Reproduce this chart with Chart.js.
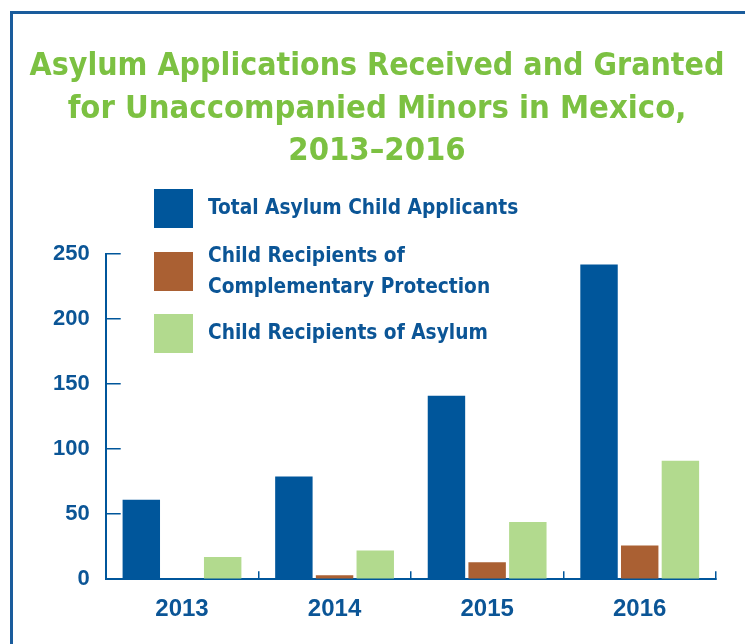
<!DOCTYPE html>
<html>
<head>
<meta charset="utf-8">
<script src="https://cdn.jsdelivr.net/npm/chart.js@4"></script>
<style>
    html, body { margin: 0; padding: 0; background: #ffffff; overflow: hidden; }
    #frame {
        position: absolute; left: 10px; top: 11px; width: 740px; height: 700px;
        border: 3px solid #1a5c9c; box-sizing: border-box;
    }
    #wrap { position: absolute; left: 0; top: 0; width: 745px; height: 644px; }
</style>
</head>
<body>
<div id="frame"></div>
<div id="wrap"><canvas id="asylum-chart" width="745" height="644"></canvas></div>
<script>
const years = ['2013', '2014', '2015', '2016'];
const totalApplicants = [61, 79, 141, 242];
const complementaryProtection = [0, 3, 13, 26];
const asylumRecipients = [17, 22, 44, 91];
const yTicks = [0, 50, 100, 150, 200, 250];

const seriesLabels = [
    ['Total Asylum Child Applicants'],
    ['Child Recipients of', 'Complementary Protection'],
    ['Child Recipients of Asylum']
];
const titleLines = [
    'Asylum Applications Received and Granted',
    'for Unaccompanied Minors in Mexico,',
    '2013\u20132016'
];

const BLUE = '#00569b';
const BROWN = '#aa6033';
const LIGHT_GREEN = '#b2da8e';
const TITLE_GREEN = '#7cc142';
const TEXT_BLUE = '#0b5596';
const NARROW = "'DejaVu Sans Condensed', 'DejaVu Sans', sans-serif";
const SANS = "'Liberation Sans', Arial, sans-serif";

// title centred on the frame rather than on the plot box
const frameTitle = {
    id: 'frameTitle',
    afterDraw(chart) {
        const ctx = chart.ctx;
        ctx.save();
        ctx.font = `bold 32.5px ${NARROW}`;
        ctx.fillStyle = TITLE_GREEN;
        ctx.textAlign = 'center';
        ctx.textBaseline = 'middle';
        titleLines.forEach((line, i) => ctx.fillText(line, 377, 67 + i * 42.5, 695));
        ctx.restore();
    }
};

// legend drawn on the canvas so the two-line label can wrap like the original
const boxLegend = {
    id: 'boxLegend',
    afterDraw(chart) {
        const ctx = chart.ctx;
        const rows = [189, 252, 314];
        ctx.save();
        ctx.font = `bold 20.7px ${NARROW}`;
        ctx.textBaseline = 'middle';
        ctx.textAlign = 'left';
        chart.data.datasets.forEach((ds, i) => {
            const top = rows[i];
            ctx.fillStyle = ds.backgroundColor;
            ctx.fillRect(154, top, 39, 39);
            ctx.fillStyle = TEXT_BLUE;
            const lines = seriesLabels[i];
            const start = top + 20 - (lines.length - 1) * 15.5;
            lines.forEach((line, j) => ctx.fillText(line, 208, start + j * 31));
        });
        ctx.restore();
    }
};

new Chart(document.getElementById('asylum-chart'), {
    type: 'bar',
    data: {
        labels: years,
        datasets: [{
            label: seriesLabels[0].join(' '),
            data: totalApplicants,
            backgroundColor: BLUE
        }, {
            label: seriesLabels[1].join(' '),
            data: complementaryProtection,
            backgroundColor: BROWN
        }, {
            label: seriesLabels[2].join(' '),
            data: asylumRecipients,
            backgroundColor: LIGHT_GREEN
        }]
    },
    options: {
        responsive: false,
        animation: false,
        categoryPercentage: 0.8,
        barPercentage: 0.92,
        layout: { padding: { left: 22, right: 29, top: 254, bottom: -4 } },
        scales: {
            x: {
                grid: {
                    drawOnChartArea: false,
                    offset: true,
                    tickLength: -8,
                    color: BLUE,
                    lineWidth: 1.5
                },
                border: { color: BLUE, width: 2 },
                ticks: {
                    color: TEXT_BLUE,
                    padding: 24,
                    font: { family: SANS, size: 24, weight: 'bold' }
                }
            },
            y: {
                min: 0,
                max: 250,
                afterBuildTicks: (scale) => { scale.ticks = yTicks.map(v => ({ value: v })); },
                grid: {
                    drawOnChartArea: false,
                    tickLength: -15,
                    color: BLUE,
                    lineWidth: 1.5
                },
                border: { color: BLUE, width: 2 },
                ticks: {
                    color: TEXT_BLUE,
                    padding: 31,
                    font: { family: SANS, size: 22, weight: 'bold' }
                }
            }
        },
        plugins: {
            legend: { display: false },
            tooltip: { enabled: false },
            title: { display: false }
        }
    },
    plugins: [frameTitle, boxLegend]
});
</script>
</body>
</html>
